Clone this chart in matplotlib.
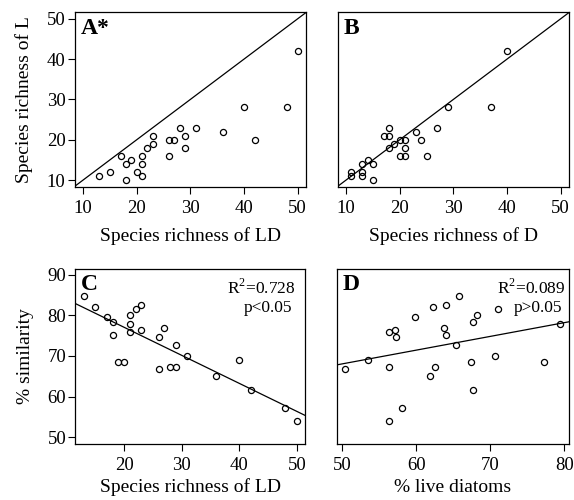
import matplotlib
matplotlib.use('Agg')
import matplotlib.pyplot as plt
import numpy as np

plt.rcParams['font.family'] = ['Liberation Serif', 'DejaVu Serif']
plt.rcParams['mathtext.fontset'] = 'custom'
plt.rcParams['mathtext.rm'] = 'Liberation Serif'

# A: richness of L against LD
ld_a = [13, 15, 17, 18, 18, 19, 20, 21, 21, 21, 22, 23, 23, 26, 26, 27, 28, 29, 29, 31, 36, 40, 42, 48, 50]
l_a = [11, 12, 16, 14, 10, 15, 12, 16, 14, 11, 18, 19, 21, 20, 16, 20, 23, 21, 18, 23, 22, 28, 20, 28, 42]

# B: richness of L against D
d_b = [11, 11, 13, 13, 13, 14, 15, 15, 17, 18, 18, 18, 19, 20, 20, 21, 21, 21, 23, 24, 25, 27, 29, 37, 40]
l_b = [11, 12, 11, 12, 14, 15, 14, 10, 21, 21, 23, 18, 19, 20, 16, 20, 18, 16, 22, 20, 16, 23, 28, 28, 42]

# C: % similarity against richness of LD
ld_c = [13, 15, 17, 18, 18, 19, 20, 21, 21, 21, 22, 23, 23, 26, 26, 27, 28, 29, 29, 31, 36, 40, 42, 48, 50]
sim_c = [84.7, 82.0, 79.7, 78.5, 75.2, 68.6, 68.6, 80.2, 78.0, 76.0, 81.6, 82.5, 76.5, 74.6, 66.8,
         76.9, 67.3, 67.3, 72.7, 70.1, 65.1, 69.0, 61.7, 57.1, 53.9]

# D: % similarity against % live diatoms
live_d = [50.4, 53.5, 56.3, 56.3, 56.3, 57.1, 57.3, 58.0, 59.8, 61.8, 62.2, 62.5, 63.7, 64.0, 64.0,
          65.4, 65.7, 67.4, 67.6, 67.7, 68.2, 70.6, 71.1, 77.2, 79.4]
sim_d = [66.8, 69.0, 76.0, 67.3, 53.9, 76.5, 74.6, 57.1, 79.7, 65.1, 82.0, 67.3, 76.9, 82.5, 75.2,
         72.7, 84.7, 68.6, 78.5, 61.7, 80.2, 70.1, 81.6, 68.6, 78.0]

W, H = 574, 500
fig = plt.figure(figsize=(W / 100, H / 100), dpi=100)


def box(left, top, right, bottom):
    return [left / W, 1 - bottom / H, (right - left) / W, (bottom - top) / H]


ax_a = fig.add_axes(box(74.5, 12.3, 306.3, 186.5))
ax_b = fig.add_axes(box(337.5, 12.3, 569.3, 186.5))
ax_c = fig.add_axes(box(75.2, 268.5, 305.3, 443.5))
ax_d = fig.add_axes(box(336.7, 268.5, 568.5, 443.5))


def r_range(lo, hi):
    pad = (hi - lo) * 0.04
    return lo - pad, hi + pad


def style(ax, yticks=True):
    for sp in ax.spines.values():
        sp.set_linewidth(0.9)
    ax.tick_params(axis='x', direction='out', length=5, width=0.8, pad=5, labelsize=13.5)
    if yticks:
        ax.tick_params(axis='y', direction='out', length=5, width=0.8, pad=1.5, labelsize=13.5)
    else:
        ax.tick_params(axis='y', left=False, labelleft=False)


def pts(ax, x, y):
    ax.plot(x, y, 'o', ms=4.4, mfc='none', mec='black', mew=0.9, clip_on=False)


# 1:1 panels
for ax, x, y, letter, xlab in [(ax_a, ld_a, l_a, 'A*', 'Species richness of LD'),
                               (ax_b, d_b, l_b, 'B', 'Species richness of D')]:
    lim = r_range(10, 50)
    ax.set_xlim(lim)
    ax.set_ylim(lim)
    ax.plot(lim, lim, color='black', lw=0.9)
    pts(ax, x, y)
    ax.set_xticks([10, 20, 30, 40, 50])
    ax.set_yticks([10, 20, 30, 40, 50])
    ax.set_xlabel(xlab, fontsize=14, labelpad=7)
    ax.text(0.026, 0.905, letter, transform=ax.transAxes, fontsize=17, fontweight='bold',
            ha='left', va='center')

style(ax_a)
style(ax_b, yticks=False)
ax_a.set_ylabel('Species richness of L', fontsize=14, labelpad=10)

# regression panels
for ax, x, y, letter, xlab, r2, p, tx in [
        (ax_c, ld_c, sim_c, 'C', 'Species richness of LD', '0.728', 'p<0.05', 0.957),
        (ax_d, live_d, sim_d, 'D', '% live diatoms', '0.089', 'p>0.05', 0.987)]:
    xl = r_range(min(x), max(x))
    ax.set_xlim(xl)
    ax.set_ylim(r_range(50, 90))
    slope, icpt = np.polyfit(x, y, 1)
    xx = np.array(xl)
    ax.plot(xx, slope * xx + icpt, color='black', lw=0.9)
    pts(ax, x, y)
    ax.set_yticks([50, 60, 70, 80, 90])
    ax.set_xlabel(xlab, fontsize=14, labelpad=3)
    ax.text(0.026, 0.91, letter, transform=ax.transAxes, fontsize=17, fontweight='bold',
            ha='left', va='center')
    ax.text(tx, 0.89, r'R$^2$=' + r2, transform=ax.transAxes, fontsize=12.5,
            ha='right', va='center')
    ax.text(tx - 0.015, 0.775, p, transform=ax.transAxes, fontsize=12.5,
            ha='right', va='center')

ax_c.set_xticks([20, 30, 40, 50])
ax_d.set_xticks([50, 60, 70, 80])
style(ax_c)
style(ax_d, yticks=False)
ax_c.set_ylabel('% similarity', fontsize=14, labelpad=10)

fig.savefig('out.png', dpi=100)
